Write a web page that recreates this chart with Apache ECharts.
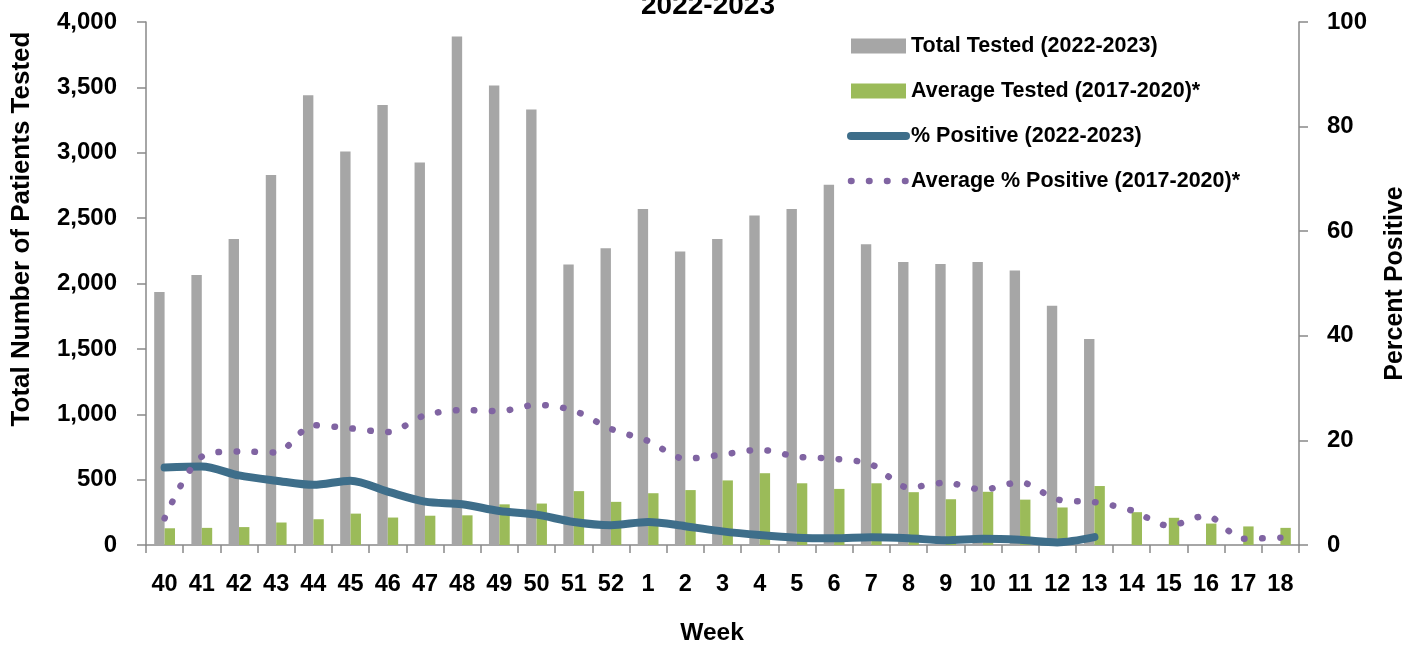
<!DOCTYPE html>
<html>
<head>
<meta charset="utf-8">
<script src="https://cdn.jsdelivr.net/npm/echarts@6/dist/echarts.min.js"></script>
<style>
html,body{margin:0;padding:0;background:#fff;}
#chart{width:1424px;height:650px;}
</style>
</head>
<body>
<div id="chart"></div>
<script>
const weeks = ['40','41','42','43','44','45','46','47','48','49','50','51','52','1','2','3','4','5','6','7','8','9','10','11','12','13','14','15','16','17','18'];
const totalTested = [1935,2065,2340,2830,3440,3010,3365,2925,3890,3515,3330,2145,2270,2570,2245,2340,2520,2570,2755,2300,2165,2150,2165,2100,1830,1575,null,null,null,null,null];
const avgTested = [128,131,137,172,197,240,210,224,227,311,317,412,330,396,420,494,549,472,429,472,404,350,407,347,287,451,251,208,164,142,131];
const pctPositive = [14.8,15.0,13.3,12.3,11.5,12.3,10.2,8.3,7.8,6.5,5.8,4.4,3.8,4.4,3.6,2.6,1.9,1.4,1.3,1.5,1.3,0.9,1.2,1.0,0.5,1.5,null,null,null,null,null];
const avgPctPositive = [5.1,16.9,17.9,17.7,22.9,22.3,21.6,24.8,25.8,25.6,26.8,25.7,22.2,19.9,16.5,17.3,18.2,16.9,16.5,15.4,11.0,11.9,10.6,12.0,8.7,8.2,6.6,3.7,5.6,1.2,1.4];
const leftTicks = {min:0,max:4000,interval:500};
const rightTicks = {min:0,max:100,interval:20};
const seriesNames = ['Total Tested (2022-2023)','Average Tested (2017-2020)*','% Positive (2022-2023)','Average % Positive (2017-2020)*'];
const titleText = '2022-2023';
const leftName = 'Total Number of Patients Tested';
const rightName = 'Percent Positive';
const xName = 'Week';

const SANS = "'Liberation Sans',Arial,sans-serif";
const AXIS = '#898989';
const C_GRAY = '#A6A6A6', C_GREEN = '#9BBB59', C_BLUE = '#3E6E8A', C_PURPLE = '#8064A2';

const chart = echarts.init(document.getElementById('chart'));
const axisCommon = {
  axisLine:{show:true,lineStyle:{color:AXIS,width:1.5}},
  axisTick:{show:true,length:9,lineStyle:{color:AXIS,width:1.5}},
  splitLine:{show:false}
};
chart.setOption({
  animation:false,
  backgroundColor:'#fff',
  grid:{left:146,right:125,top:22,bottom:105,containLabel:false},
  legend:{
    orient:'vertical', left:847, top:33, padding:0,
    itemWidth:55, itemHeight:15, itemGap:19,
    textStyle:{fontFamily:SANS,fontWeight:'bold',fontSize:21.5,lineHeight:26,color:'#000'},
    data:[
      {name:seriesNames[0],icon:'rect'},
      {name:seriesNames[1],icon:'rect'},
      {name:seriesNames[2],itemStyle:{opacity:0,borderWidth:0},lineStyle:{width:8,cap:'round',color:C_BLUE,opacity:1}},
      {name:seriesNames[3],itemStyle:{opacity:0,borderWidth:0},lineStyle:{width:6.5,cap:'round',type:[0.5,17.5],color:C_PURPLE,opacity:1}}
    ]
  },
  xAxis:{
    type:'category', data:weeks, boundaryGap:true,
    axisLine:{show:true,lineStyle:{color:AXIS,width:1.5}},
    axisTick:{show:true,interval:0,length:8,lineStyle:{color:AXIS,width:1.5}},
    axisLabel:{interval:0,margin:28,fontFamily:SANS,fontWeight:'bold',fontSize:23.5,color:'#000'}
  },
  yAxis:[
    Object.assign({type:'value',position:'left',min:leftTicks.min,max:leftTicks.max,interval:leftTicks.interval,
      axisLabel:{margin:29,fontFamily:SANS,fontWeight:'bold',fontSize:24,color:'#000',
        formatter:v=>v.toLocaleString('en-US')}},axisCommon),
    Object.assign({type:'value',position:'right',min:rightTicks.min,max:rightTicks.max,interval:rightTicks.interval,
      name:rightName,nameLocation:'middle',nameGap:84,nameRotate:90,
      nameTextStyle:{fontFamily:SANS,fontWeight:'bold',fontSize:25,color:'#000'},
      axisLabel:{margin:28,fontFamily:SANS,fontWeight:'bold',fontSize:24,color:'#000'}},axisCommon)
  ],
  graphic:[
    {type:'text',x:708,y:6,style:{text:titleText,fontFamily:SANS,fontWeight:'bold',fontSize:28,fill:'#000',align:'center',verticalAlign:'middle'}},
    {type:'text',x:22,y:229,rotation:Math.PI/2,style:{text:leftName,fontFamily:SANS,fontWeight:'bold',fontSize:26,fill:'#000',align:'center',verticalAlign:'middle'}},
    {type:'text',x:712,y:633,style:{text:xName,fontFamily:SANS,fontWeight:'bold',fontSize:24.5,fill:'#000',align:'center',verticalAlign:'middle'}}
  ],
  series:[
    {name:seriesNames[0],type:'bar',yAxisIndex:0,data:totalTested,barWidth:10.4,barGap:'0%',itemStyle:{color:C_GRAY}},
    {name:seriesNames[1],type:'bar',yAxisIndex:0,data:avgTested,barWidth:10.4,barGap:'0%',itemStyle:{color:C_GREEN}},
    {name:seriesNames[2],type:'line',yAxisIndex:1,data:pctPositive,smooth:0.3,symbol:'none',showSymbol:false,
      lineStyle:{color:C_BLUE,width:8,cap:'round',join:'round'},itemStyle:{color:C_BLUE}},
    {name:seriesNames[3],type:'line',yAxisIndex:1,data:avgPctPositive,smooth:0.3,symbol:'none',showSymbol:false,
      lineStyle:{color:C_PURPLE,width:6.5,cap:'round',type:[0.5,17.5]},itemStyle:{color:C_PURPLE}}
  ]
});
</script>
</body>
</html>
